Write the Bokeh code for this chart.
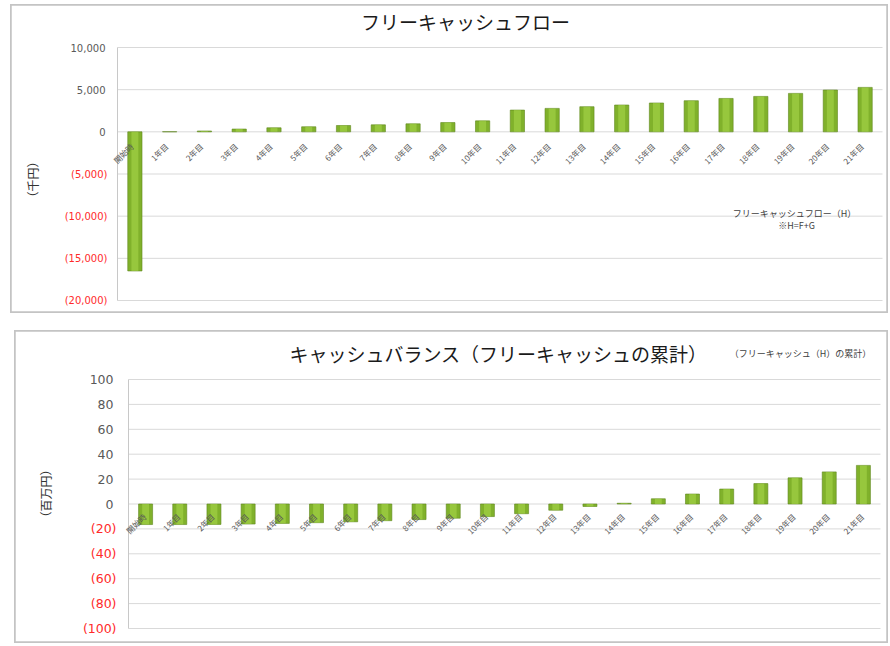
from math import pi
from bokeh.plotting import figure
from bokeh.models import ColumnDataSource, Range1d
from bokeh.layouts import column
from bokeh.embed import file_html
from bokeh.resources import INLINE
from bokeh.core.properties import value

# ---------------- data ----------------
categories = ["開始時", "1年目", "2年目", "3年目", "4年目", "5年目", "6年目", "7年目",
              "8年目", "9年目", "10年目", "11年目", "12年目", "13年目", "14年目", "15年目",
              "16年目", "17年目", "18年目", "19年目", "20年目", "21年目"]

# free cash flow (thousand yen)
free_cash_flow = [-16500, 20, 100, 330, 480, 600, 750, 830, 950, 1100, 1300,
                  2580, 2780, 2980, 3180, 3420, 3690, 3960, 4200, 4560, 4960, 5270]

# cash balance (million yen, cumulative)
cash_balance = [-16.5, -16.5, -16.4, -16.1, -15.6, -15.0, -14.3, -13.4, -12.5, -11.4, -10.1,
                -7.8, -5.0, -2.0, 0.6, 4.2, 8.0, 12.0, 16.4, 21.0, 25.8, 31.0]

top_ticks = [10000, 5000, 0, -5000, -10000, -15000, -20000]
top_tick_labels = ["10,000", "5,000", "0", "(5,000)", "(10,000)", "(15,000)", "(20,000)"]

bottom_ticks = [100, 80, 60, 40, 20, 0, -20, -40, -60, -80, -100]
bottom_tick_labels = ["100", "80", "60", "40", "20", "0", "(20)", "(40)", "(60)", "(80)", "(100)"]

top_title = "フリーキャッシュフロー"
top_ylabel = "（千円）"
top_note1 = "フリーキャッシュフロー（H）"
top_note2 = "※H=F+G"

bottom_title = "キャッシュバランス（フリーキャッシュの累計）"
bottom_ylabel = "（百万円）"
bottom_note = "（フリーキャッシュ（H）の累計）"

JP = "Noto Sans CJK JP"
NUM = "DejaVu Sans"
GRAY = "#595959"
RED = "#ff2a2a"
GRID = "#d9d9d9"


class Panel:
    """Figure whose frame fills the whole panel; page-pixel layout mapped to data."""

    def __init__(self, panel_px, frame_px, ticks):
        pl, pt, pr, pb = panel_px
        fl, ft, fr, fb = frame_px
        n = len(categories)
        self.x0, self.x1 = -0.5, n - 0.5
        self.y0, self.y1 = min(ticks), max(ticks)
        self.sx = (fr - fl) / (self.x1 - self.x0)
        self.sy = (fb - ft) / (self.y1 - self.y0)
        self.fl, self.ft = fl, ft
        xr = Range1d(self.px_x(pl), self.px_x(pr))
        yr = Range1d(self.px_y(pb), self.px_y(pt))
        self.p = figure(width=pr - pl, height=pb - pt, x_range=xr, y_range=yr,
                        output_backend="svg", toolbar_location=None,
                        min_border=0, min_border_left=0, min_border_right=0,
                        min_border_top=0, min_border_bottom=0)
        p = self.p
        p.xaxis.visible = False
        p.yaxis.visible = False
        p.xgrid.grid_line_color = None
        p.ygrid.grid_line_color = None
        p.background_fill_color = "white"
        p.border_fill_color = "white"
        p.outline_line_color = "#c4c4c4"
        p.outline_line_width = 2.5
        self.margin = (pl, pt)

    def px_x(self, px):
        return self.x0 + (px - self.fl) / self.sx

    def px_y(self, py):
        return self.y1 - (py - self.ft) / self.sy


def build(panel, values, ticks, tick_labels, pos_off, neg_off, tick_font,
          title, title_px, ylabel, ylabel_px, cat_off):
    p = panel.p
    idx = list(range(len(categories)))

    # gridlines and left axis line
    p.segment(x0=[panel.x0] * len(ticks), x1=[panel.x1] * len(ticks),
              y0=ticks, y1=ticks, line_color=GRID, line_width=1)
    p.segment(x0=[panel.x0], x1=[panel.x0], y0=[min(ticks)], y1=[max(ticks)],
              line_color="#c8c8c8", line_width=1)

    # bars
    src = ColumnDataSource(dict(x=idx, val=values))
    p.vbar(x="x", top="val", bottom=0, width=0.41, source=src,
           fill_color="#80b12b", line_color="#5e861c", line_width=0.6)
    p.vbar(x="x", top="val", bottom=0, width=0.2, source=src,
           fill_color="#aad84c", fill_alpha=0.55, line_color=None)

    # y tick labels
    tsrc = ColumnDataSource(dict(
        x=[panel.x0] * len(ticks), y=ticks, text=tick_labels,
        color=[GRAY if t >= 0 else RED for t in ticks],
        xoff=[pos_off if t >= 0 else neg_off for t in ticks]))
    p.text(x="x", y="y", text="text", source=tsrc, x_offset="xoff",
           text_color="color", text_align="right", text_baseline="middle",
           text_font=value(NUM), text_font_size=tick_font)

    # category labels
    csrc = ColumnDataSource(dict(x=idx, y=[0] * len(idx), text=categories))
    p.text(x="x", y="y", text="text", source=csrc, angle=pi / 4,
           x_offset=cat_off[0], y_offset=cat_off[1],
           text_align="right", text_baseline="middle",
           text_font=value(JP), text_font_size="8px", text_color=GRAY)

    # title
    p.text(x=[panel.px_x(title_px[0])], y=[panel.px_y(title_px[1])], text=[title],
           text_align="center", text_baseline="middle",
           text_font=value(JP), text_font_size="19px", text_color="#1a1a1a")

    # y-axis title
    p.text(x=[panel.px_x(ylabel_px[0])], y=[panel.px_y(ylabel_px[1])], text=[ylabel],
           angle=pi / 2, text_align="center", text_baseline="middle",
           text_font=value(JP), text_font_size="12px", text_color="#333333")


def note(panel, text, px, size="9px"):
    panel.p.text(x=[panel.px_x(px[0])], y=[panel.px_y(px[1])], text=[text],
                 text_align="center", text_baseline="middle",
                 text_font=value(JP), text_font_size=size, text_color="#404040")


top = Panel((10, 4, 888, 313), (117, 47, 882, 300), top_ticks)
build(top, free_cash_flow, top_ticks, top_tick_labels, -12, -10, "10px",
      top_title, (465, 21), top_ylabel, (32, 179), (-3, 13))
note(top, top_note1, (794, 213))
note(top, top_note2, (796, 225))

bottom = Panel((14, 330, 888, 643), (128, 379, 880, 628), bottom_ticks)
build(bottom, cash_balance, bottom_ticks, bottom_tick_labels, -15, -12, "12.5px",
      bottom_title, (498, 353), bottom_ylabel, (45, 493), (-1, 11))
note(bottom, bottom_note, (800, 353))

top.p.margin = (4, 0, 0, 10)
bottom.p.margin = (330 - 313, 0, 0, 14)

layout = column(top.p, bottom.p, spacing=0)

open("out.html", "w").write(file_html(layout, INLINE))
